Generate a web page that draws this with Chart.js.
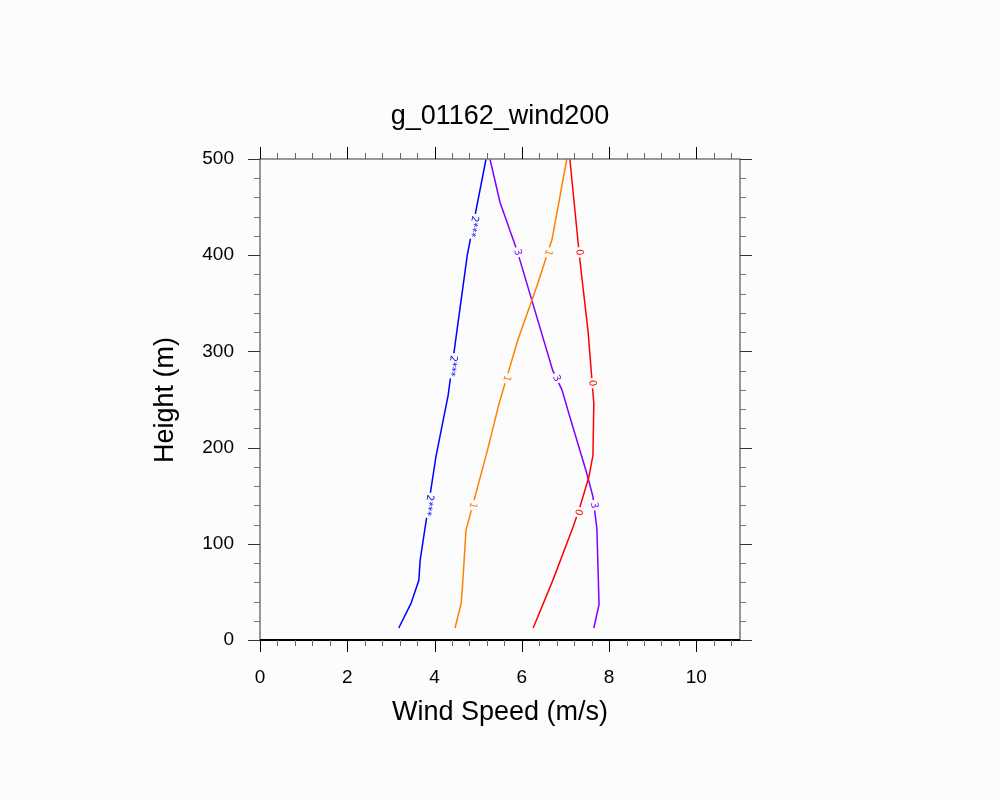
<!DOCTYPE html>
<html>
<head>
<script src="https://cdn.jsdelivr.net/npm/chart.js@4"></script>
<style>
  body { margin: 0; background: #fcfcfc; }
  #wrap { width: 1000px; height: 800px; }
</style>
</head>
<body>
<div id="wrap"><canvas id="chart" width="1000" height="800"></canvas></div>
<script>
// series: wind speed (m/s) at height (m)
const blueX = [3.18, 3.46, 3.64, 3.67, 4.03, 4.31, 4.75, 5.18];
const blueY = [12.5, 38, 62, 83, 190, 254, 400, 500];
const orangeX = [4.47, 4.61, 4.65, 4.72, 5.2, 5.48, 5.91, 6.37, 6.69, 6.87, 7.03];
const orangeY = [12.5, 38, 62, 114, 195, 246, 312, 371, 416, 460, 500];
const redX = [6.26, 6.71, 7.17, 7.33, 7.54, 7.63, 7.65, 7.63, 7.52, 7.33, 7.1];
const redY = [12.5, 62, 117, 138, 170, 192, 246, 257, 320, 395, 500];
const purpleX = [7.65, 7.77, 7.72, 7.63, 7.49, 7.1, 6.92, 6.71, 5.89, 5.5, 5.27];
const purpleY = [12.5, 37, 116, 149, 173, 232, 260, 280, 405, 455, 500];

// line labels: text, and heights where they sit
const lineLabels = [
  { text: '2***', idx: 0, heights: [140, 285, 430] },
  { text: '1', idx: 1, heights: [140, 272, 403] },
  { text: '0', idx: 2, heights: [133, 267, 403] },
  { text: '3', idx: 3, heights: [140, 272, 403] }
];

const xTicks = [0, 2, 4, 6, 8, 10];
const yTicks = [0, 100, 200, 300, 400, 500];

const colors = ['#0000ff', '#ff8000', '#ff0000', '#8000ff'];
const pts = (xs, ys) => xs.map((x, i) => ({ x: x, y: ys[i] }));
const series = [pts(blueX, blueY), pts(orangeX, orangeY), pts(redX, redY), pts(purpleX, purpleY)];

function xAt(data, h) {
  for (let i = 0; i < data.length - 1; i++) {
    const a = data[i], b = data[i + 1];
    if (h >= a.y && h <= b.y) return a.x + (b.x - a.x) * (h - a.y) / (b.y - a.y);
  }
  return data[data.length - 1].x;
}

const decor = {
  id: 'decor',
  afterDatasetsDraw(chart) {
    const ctx = chart.ctx, xs = chart.scales.x, ys = chart.scales.y;
    const a = chart.chartArea;
    ctx.save();
    // line labels
    ctx.font = '10px "DejaVu Sans"';
    ctx.textAlign = 'center';
    ctx.textBaseline = 'middle';
    lineLabels.forEach(l => {
      const d = series[l.idx];
      l.heights.forEach(h => {
        const px = xs.getPixelForValue(xAt(d, h)), py = ys.getPixelForValue(h);
        const p2x = xs.getPixelForValue(xAt(d, h + 10)), p2y = ys.getPixelForValue(h + 10);
        let ang = Math.atan2(p2y - py, p2x - px) + Math.PI;
        ctx.save();
        ctx.translate(px, py);
        ctx.rotate(ang);
        const w = ctx.measureText(l.text).width + 4;
        ctx.fillStyle = '#fcfcfc';
        ctx.fillRect(-w / 2, -5, w, 10);
        ctx.fillStyle = colors[l.idx];
        ctx.fillText(l.text, 0, 0);
        ctx.restore();
      });
    });
    // frame
    ctx.strokeStyle = '#777';
    ctx.lineWidth = 1.5;
    ctx.strokeRect(a.left, a.top, a.right - a.left, a.bottom - a.top);
    ctx.strokeStyle = '#000';
    ctx.lineWidth = 2;
    ctx.beginPath(); ctx.moveTo(a.left, a.bottom); ctx.lineTo(a.right, a.bottom); ctx.stroke();
    // ticks
    ctx.lineWidth = 1;
    for (let i = 0; i <= 55; i += 2) {
      const v = i * 0.2;
      const px = Math.round(xs.getPixelForValue(v)) + 0.5;
      const major = i % 10 === 0;
      const len = major ? 12 : 6;
      ctx.strokeStyle = major ? '#000' : '#666';
      ctx.beginPath();
      ctx.moveTo(px, a.bottom); ctx.lineTo(px, a.bottom + len);
      ctx.moveTo(px, a.top); ctx.lineTo(px, a.top - len);
      ctx.stroke();
    }
    for (let v = 0; v <= 500; v += 20) {
      const py = Math.round(ys.getPixelForValue(v)) + 0.5;
      const len = v % 100 === 0 ? 12 : 6;
      ctx.strokeStyle = v % 100 === 0 ? '#333' : '#777';
      ctx.beginPath();
      ctx.moveTo(a.left, py); ctx.lineTo(a.left - len, py);
      ctx.moveTo(a.right, py); ctx.lineTo(a.right + len, py);
      ctx.stroke();
    }
    // tick labels
    ctx.fillStyle = '#000';
    ctx.font = '19px "Liberation Sans"';
    ctx.textAlign = 'center';
    ctx.textBaseline = 'middle';
    xTicks.forEach(v => ctx.fillText(String(v), xs.getPixelForValue(v), 678));
    ctx.textAlign = 'right';
    yTicks.forEach(v => ctx.fillText(String(v), 234, ys.getPixelForValue(v)));
    // titles
    ctx.textAlign = 'center';
    ctx.font = '27px "Liberation Sans"';
    ctx.fillText('g_01162_wind200', 500, 117);
    ctx.fillText('Wind Speed (m/s)', 500, 713);
    ctx.save();
    ctx.translate(166, 400);
    ctx.rotate(-Math.PI / 2);
    ctx.fillText('Height (m)', 0, 0);
    ctx.restore();
    ctx.restore();
  }
};

new Chart(document.getElementById('chart').getContext('2d'), {
  type: 'scatter',
  data: {
    datasets: series.map((d, i) => ({
      data: d,
      showLine: true,
      borderColor: colors[i],
      borderWidth: 1.5,
      pointRadius: 0,
      fill: false
    }))
  },
  options: {
    responsive: false,
    animation: false,
    layout: { padding: { left: 260, right: 260, top: 159, bottom: 160 } },
    plugins: { legend: { display: false }, tooltip: { enabled: false } },
    scales: {
      x: { type: 'linear', min: 0, max: 11, display: false },
      y: { type: 'linear', min: 0, max: 500, display: false }
    }
  },
  plugins: [decor]
});
</script>
</body>
</html>
